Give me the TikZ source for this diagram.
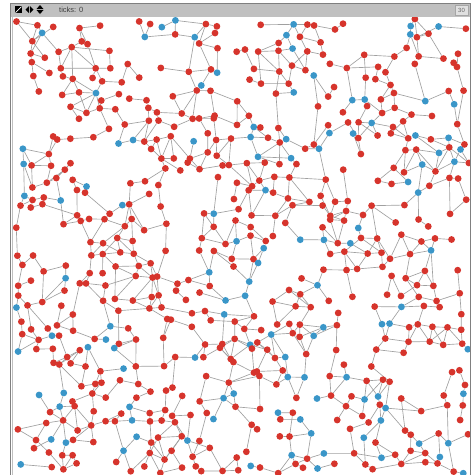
\documentclass[tikz,border=0pt]{standalone}
\usepackage{fontspec}
\setmainfont{Liberation Sans}
\definecolor{vermelho}{RGB}{214,52,44}
\definecolor{azul}{RGB}{58,150,200}
\definecolor{cinza}{RGB}{160,160,160}
\definecolor{barra}{RGB}{192,192,192}
\pgfdeclarelayer{fundo}
\pgfdeclarelayer{frente}
\pgfsetlayers{fundo,main,frente}
\newcommand{\marca}[2]{\expandafter\gdef\csname dg-#1-#2\endcsname{}}
\newcommand{\liga}[5]{\ifcsname oc-#3-#4\endcsname\pgfmathparse{rnd<#5}\ifdim\pgfmathresult pt>0.5pt\draw[lk] (n-#1-#2) -- (n-#3-#4);\marca{#1}{#2}\marca{#3}{#4}\fi\fi}
\newcommand{\ligf}[4]{\ifnum\feito=0 \ifcsname oc-#3-#4\endcsname\draw[lk] (n-#1-#2) -- (n-#3-#4);\gdef\feito{1}\marca{#3}{#4}\fi\fi}

\begin{document}
\begin{tikzpicture}[x=1pt, y=-1pt,
        no/.style={circle, inner sep=0pt, minimum size=6.8pt, fill=vermelho},
        lk/.style={cinza, line width=0.65pt},
        tri/.style={fill=black}]
    \useasboundingbox (0,0) rectangle (473,475);
    \pgfmathsetseed{2718}
    \foreach \i in {0,...,31}{\foreach \j in {0,...,31}{
        \pgfmathsetmacro\dens{0.59+0.27*sin(\i*41+13)*sin(\j*37+71)+0.2*sin(\i*23-\j*31+40)+0.15*cos(\i*53+\j*19)}
        \pgfmathsetmacro\px{12+(\i+0.5+0.85*(rnd-0.5))*14.31}
        \pgfmathsetmacro\py{17+(\j+0.5+0.85*(rnd-0.5))*14.31}
        \pgfmathparse{rnd<\dens}
        \ifdim\pgfmathresult pt>0.5pt
            \expandafter\gdef\csname oc-\i-\j\endcsname{}
            \pgfmathparse{rnd<0.17}
            \ifdim\pgfmathresult pt>0.5pt\node[no, fill=azul] (n-\i-\j) at (\px,\py) {};
            \else\node[no] (n-\i-\j) at (\px,\py) {};\fi
        \fi}}
    \begin{pgfonlayer}{fundo}
    \fill[white] (0,0) rectangle (473,475);
    \foreach \i in {0,...,31}{\foreach \j in {0,...,31}{
        \ifcsname oc-\i-\j\endcsname
            \pgfmathtruncatemacro\ia{\i+1}\pgfmathtruncatemacro\ib{\i+2}
            \pgfmathtruncatemacro\ic{\i-1}\pgfmathtruncatemacro\ja{\j+1}
            \pgfmathtruncatemacro\jb{\j+2}
            \liga{\i}{\j}{\ia}{\j}{0.65}
            \liga{\i}{\j}{\i}{\ja}{0.65}
            \liga{\i}{\j}{\ia}{\ja}{0.3}
            \liga{\i}{\j}{\ic}{\ja}{0.3}
            \ifcsname oc-\ia-\j\endcsname\else\liga{\i}{\j}{\ib}{\j}{0.5}\fi
            \ifcsname oc-\i-\ja\endcsname\else\liga{\i}{\j}{\i}{\jb}{0.5}\fi
        \fi}}
    \foreach \i in {0,...,31}{\foreach \j in {0,...,31}{
        \ifcsname oc-\i-\j\endcsname\ifcsname dg-\i-\j\endcsname\else
            \gdef\feito{0}
            \pgfmathtruncatemacro\ia{\i+1}\pgfmathtruncatemacro\ib{\i+2}
            \pgfmathtruncatemacro\ic{\i-1}\pgfmathtruncatemacro\id{\i-2}
            \pgfmathtruncatemacro\ja{\j+1}\pgfmathtruncatemacro\jb{\j+2}
            \pgfmathtruncatemacro\jc{\j-1}\pgfmathtruncatemacro\jd{\j-2}
            \ligf{\i}{\j}{\ic}{\j}\ligf{\i}{\j}{\ia}{\j}\ligf{\i}{\j}{\i}{\jc}\ligf{\i}{\j}{\i}{\ja}
            \ligf{\i}{\j}{\ic}{\jc}\ligf{\i}{\j}{\ia}{\ja}\ligf{\i}{\j}{\ia}{\jc}\ligf{\i}{\j}{\ic}{\ja}
            \ligf{\i}{\j}{\ib}{\j}\ligf{\i}{\j}{\id}{\j}\ligf{\i}{\j}{\i}{\jb}\ligf{\i}{\j}{\i}{\jd}
        \fi\fi}}
    \end{pgfonlayer}
    \begin{pgfonlayer}{frente}
        \fill[white] (0,0) rectangle (9.5,475) (470,0) rectangle (473,475) (0,0) rectangle (473,3);
        \fill[barra] (10,3) rectangle (470,17);
        \draw[gray, line width=0.8pt] (10,3) rectangle (470,476);
        \draw[gray!50, line width=0.6pt] (12,17) -- (12,476);
        \fill[black] (15,6) rectangle (22,13);
        \draw[white, line width=0.7pt] (15.5,12.5) -- (21.5,6.5);
        \fill[tri] (25.5,9.5) -- (29,6) -- (29,13) -- cycle (33.5,9.5) -- (30,6) -- (30,13) -- cycle;
        \fill[tri] (40,5) -- (36.5,9) -- (43.5,9) -- cycle (40,14) -- (36.5,10) -- (43.5,10) -- cycle;
        \node[anchor=west, inner sep=0pt, text=black!75, font=\fontsize{7.5}{9}\selectfont] (tk) at (59,10) {ticks: 0};
        \node[draw=gray!70, fill=black!12, inner sep=1pt, minimum width=13pt, minimum height=10pt, text=black!60, font=\fontsize{6}{7}\selectfont] (vel) at (461.5,10) {30};
    \end{pgfonlayer}
\end{tikzpicture}
\end{document}
